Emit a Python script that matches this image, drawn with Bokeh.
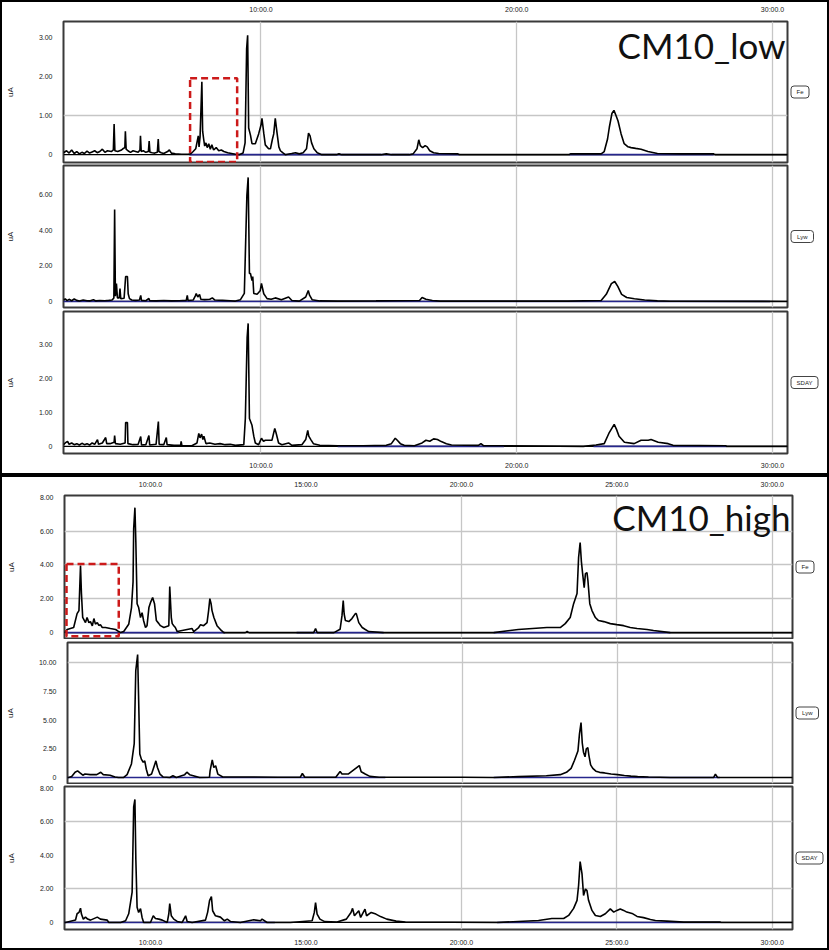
from bokeh.plotting import figure
from bokeh.layouts import column, row
from bokeh.models import Range1d, FixedTicker, Grid, Span, Label
from bokeh.core.properties import value
from bokeh.embed import file_html
from bokeh.resources import INLINE

# ---------------- data (x: retention time in minutes, y: current in uA) ----------------
low_x_ticks = [10, 20, 30]
low_x_labels = ["10:00.0", "20:00.0", "30:00.0"]
high_x_ticks = [10, 15, 20, 25, 30]
high_x_labels = ["10:00.0", "15:00.0", "20:00.0", "25:00.0", "30:00.0"]

channel_tags = ["Fe", "Lyw", "SDAY"]
titles = ["CM10_low", "CM10_high"]

# CM10_low, channel Fe
low_fe_x = [2.281, 2.40, 2.50, 2.60, 2.70, 2.80, 2.90, 3.00, 3.10, 3.20, 3.30, 3.40, 3.50, 3.60, 3.70, 3.80, 3.90, 4.00,
            4.15, 4.23, 4.26, 4.29, 4.40, 4.55, 4.60, 4.68, 4.70, 4.73, 4.80, 4.90, 5.00, 5.10, 5.20, 5.27, 5.29, 5.32,
            5.40, 5.50, 5.60, 5.63, 5.66, 5.75, 5.85, 5.95, 5.985, 6.01, 6.10, 6.20, 6.35, 6.42, 6.50, 6.65, 6.90, 7.15,
            7.25, 7.35, 7.45, 7.55, 7.58, 7.62, 7.69, 7.72, 7.76, 7.80, 7.85, 7.90, 7.96, 8.02, 8.08, 8.15, 8.25, 8.35,
            8.45, 8.55, 8.70, 8.85, 9.00, 9.15, 9.30, 9.38, 9.44, 9.48, 9.52, 9.59, 9.65, 9.78, 9.91, 10.00, 10.04,
            10.11, 10.17, 10.30, 10.37, 10.45, 10.50, 10.56, 10.63, 10.70, 10.76, 10.85, 10.95, 11.20, 11.35, 11.50,
            11.65, 11.78, 11.86, 11.92, 11.98, 12.07, 12.20, 12.38, 12.95, 13.05, 13.16, 14.70, 14.90, 15.10, 15.80,
            15.95, 16.10, 16.17, 16.23, 16.32, 16.42, 16.50, 16.60, 16.75, 16.95, 17.70, 17.75, 22.05, 22.10, 23.30,
            23.42, 23.55, 23.62, 23.72, 23.80, 23.88, 23.96, 24.08, 24.20, 24.35, 24.47, 24.65, 24.86, 25.13, 25.50,
            26.40, 27.70, 27.75, 30.585]
low_fe_y = [0.05, 0.10, 0.04, 0.12, 0.03, 0.08, 0.02, 0.06, 0.03, 0.09, 0.04, 0.07, 0.10, 0.05, 0.08, 0.14, 0.06, 0.10,
            0.08, 0.12, 0.78, 0.10, 0.08, 0.12, 0.15, 0.18, 0.60, 0.14, 0.10, 0.06, 0.10, 0.08, 0.06, 0.12, 0.48, 0.08,
            0.10, 0.06, 0.08, 0.35, 0.06, 0.05, 0.04, 0.06, 0.40, 0.08, 0.05, 0.03, 0.08, 0.12, 0.04, 0.02, 0.01, 0.01,
            0.02, 0.08, 0.15, 0.48, 0.20, 0.45, 1.86, 0.60, 0.40, 0.22, 0.30, 0.18, 0.28, 0.14, 0.25, 0.12, 0.18, 0.10,
            0.12, 0.08, 0.05, 0.03, 0.01, 0.00, 0.04, 0.30, 2.70, 3.05, 0.68, 0.50, 0.28, 0.28, 0.53, 0.75, 0.93,
            0.55, 0.25, 0.15, 0.15, 0.40, 0.53, 0.93, 0.55, 0.20, 0.10, 0.05, 0.00, 0.03, 0.05, 0.02,
            0.05, 0.15, 0.55, 0.48, 0.30, 0.15, 0.05, 0.00, 0.00, 0.02, 0.00, 0.00, 0.02, 0.00, 0.00,
            0.02, 0.15, 0.38, 0.23, 0.18, 0.23, 0.20, 0.10, 0.05, 0.03, 0.02, 0.00, 0.00, 0.02, 0.02,
            0.08, 0.40, 0.70, 1.05, 1.13, 1.00, 0.86, 0.53, 0.28, 0.20, 0.18, 0.16, 0.14, 0.08, 0.03,
            0.02, 0.02, 0.00, 0.00]

# CM10_low, channel Lyw
low_lyw_x = [2.281, 2.35, 2.42, 2.50, 2.60, 2.70, 2.80, 2.90, 3.05, 3.20, 3.30, 3.45, 3.55, 3.70, 3.90, 4.05, 4.18, 4.25,
             4.28, 4.31, 4.35, 4.39, 4.46, 4.49, 4.52, 4.65, 4.71, 4.78, 4.81, 4.86, 4.95, 5.10, 5.25, 5.30, 5.33, 5.50,
             5.62, 5.65, 5.90, 6.20, 6.50, 6.80, 7.08, 7.12, 7.15, 7.35, 7.43, 7.47, 7.53, 7.60, 7.65, 7.80, 8.00, 8.10,
             8.20, 8.50, 8.80, 9.00, 9.20, 9.35, 9.45, 9.50, 9.55, 9.59, 9.65, 9.68, 9.72, 9.85, 9.97, 10.02, 10.11,
             10.24, 10.40, 10.56, 10.80, 11.08, 11.21, 11.50, 11.75, 11.85, 11.90, 12.00, 12.30, 13.00, 14.50, 16.20,
             16.30, 16.45, 16.70, 17.00, 22.00, 23.30, 23.50, 23.70, 23.83, 23.95, 24.10, 24.30, 24.60, 25.00, 25.50,
             26.00, 30.585]
low_lyw_y = [0.08, 0.15, 0.05, 0.12, 0.04, 0.14, 0.06, 0.03, 0.08, 0.04, 0.03, 0.10, 0.03, 0.05, 0.04, 0.06, 0.08, 0.20,
             5.17, 0.30, 1.01, 0.20, 0.20, 0.73, 0.15, 0.18, 1.40, 1.40, 0.43, 0.16, 0.08, 0.06, 0.08, 0.34, 0.06, 0.04,
             0.17, 0.04, 0.03, 0.05, 0.03, 0.04, 0.06, 0.34, 0.05, 0.08, 0.30, 0.45, 0.25, 0.40, 0.12, 0.10, 0.12, 0.20,
             0.08, 0.06, 0.04, 0.02, 0.10, 0.45, 5.96, 6.97, 1.57, 1.57, 1.18, 1.40, 0.45, 0.40, 0.60, 1.01, 0.43,
             0.16, 0.12, 0.20, 0.10, 0.25, 0.05, 0.02, 0.25, 0.62, 0.35, 0.10, 0.03, 0.02, 0.03, 0.05,
             0.22, 0.12, 0.05, 0.02, 0.02, 0.05, 0.40, 1.00, 1.12, 0.85, 0.40, 0.22, 0.15, 0.08, 0.03,
             0.01, 0.00]

# CM10_low, channel SDAY
low_sday_x = [2.281, 2.35, 2.44, 2.50, 2.60, 2.70, 2.80, 2.90, 3.00, 3.10, 3.20, 3.30, 3.40, 3.50, 3.61, 3.65, 3.80, 3.93,
              3.97, 4.10, 4.26, 4.28, 4.31, 4.50, 4.69, 4.71, 4.78, 4.80, 5.00, 5.20, 5.30, 5.33, 5.50, 5.62, 5.65, 5.90,
              5.99, 6.02, 6.20, 6.30, 6.33, 6.60, 6.86, 6.88, 6.91, 7.30, 7.50, 7.57, 7.62, 7.68, 7.73, 7.77, 7.85, 8.00,
              8.20, 8.40, 8.60, 8.80, 9.00, 9.33, 9.39, 9.46, 9.50, 9.55, 9.65, 9.72, 9.78, 9.91, 10.02, 10.10, 10.17,
              10.43, 10.54, 10.59, 10.69, 10.82, 11.08, 11.21, 11.60, 11.75, 11.83, 11.87, 11.95, 12.05, 12.30, 13.00,
              14.00, 14.90, 15.10, 15.25, 15.33, 15.45, 15.60, 16.00, 16.30, 16.45, 16.60, 16.75, 16.90, 17.05, 17.25,
              17.45, 18.50, 18.60, 18.70, 19.50, 22.60, 23.10, 23.42, 23.60, 23.81, 23.90, 24.00, 24.21, 24.59, 24.86,
              25.14, 25.25, 25.53, 25.92, 26.11, 28.18, 28.20, 30.585]
low_sday_y = [0.05, 0.10, 0.15, 0.06, 0.10, 0.05, 0.08, 0.04, 0.09, 0.05, 0.08, 0.04, 0.10, 0.06, 0.20, 0.06, 0.10, 0.26,
              0.08, 0.08, 0.12, 0.32, 0.08, 0.06, 0.10, 0.70, 0.70, 0.08, 0.05, 0.06, 0.29, 0.04, 0.05, 0.32, 0.04, 0.06,
              0.73, 0.06, 0.05, 0.26, 0.05, 0.03, 0.03, 0.15, 0.02, 0.02, 0.10, 0.38, 0.25, 0.36, 0.20, 0.30, 0.08, 0.10,
              0.06, 0.08, 0.05, 0.06, 0.03, 0.05, 0.82, 3.20, 3.62, 0.82, 0.62, 0.30, 0.10, 0.05, 0.24, 0.15, 0.18,
              0.18, 0.53, 0.40, 0.10, 0.05, 0.10, 0.03, 0.05, 0.20, 0.47, 0.30, 0.20, 0.08, 0.03, 0.02,
              0.02, 0.03, 0.08, 0.24, 0.18, 0.08, 0.03, 0.02, 0.10, 0.18, 0.15, 0.22, 0.20, 0.14, 0.08,
              0.04, 0.03, 0.08, 0.02, 0.02, 0.00, 0.04, 0.08, 0.38, 0.65, 0.50, 0.30, 0.12, 0.08, 0.18,
              0.18, 0.20, 0.12, 0.08, 0.03, 0.02, 0.00, 0.00]

# CM10_high, channel Fe
high_fe_x = [7.235, 7.32, 7.53, 7.64, 7.70, 7.75, 7.78, 7.82, 7.91, 7.96, 8.02, 8.07, 8.13, 8.18, 8.23, 8.29, 8.34, 8.39,
             8.45, 8.55, 8.71, 8.88, 8.98, 9.04, 9.14, 9.30, 9.39, 9.44, 9.46, 9.50, 9.53, 9.57, 9.62, 9.68, 9.73, 9.78,
             9.84, 9.89, 9.95, 10.00, 10.07, 10.13, 10.19, 10.27, 10.32, 10.43, 10.59, 10.62, 10.67, 10.70, 10.75,
             10.80, 10.86, 11.34, 11.39, 11.55, 11.61, 11.71, 11.82, 11.87, 11.91, 11.95, 11.98, 12.04, 12.14, 12.25,
             12.36, 13.05, 13.11, 13.17, 14.72, 15.25, 15.31, 15.36, 15.90, 16.10, 16.16, 16.20, 16.23, 16.27, 16.38,
             16.48, 16.59, 16.62, 16.70, 16.81, 16.91, 17.02, 17.50, 21.04, 21.83, 22.75, 23.18, 23.34, 23.50, 23.61,
             23.72, 23.77, 23.82, 23.86, 23.90, 23.95, 23.99, 24.04, 24.07, 24.13, 24.20, 24.31, 24.41, 24.58, 24.79,
             25.00, 25.22, 25.43, 25.65, 25.97, 26.18, 26.72, 30.65]
high_fe_y = [0.00, 0.18, 0.30, 1.12, 1.30, 3.96, 2.31, 0.90, 0.59, 0.89, 0.59, 0.65, 0.40, 0.83, 0.50, 0.59, 0.42, 0.47,
             0.30, 0.30, 0.24, 0.18, 0.06, 0.00, 0.06, 0.49, 1.48, 3.00, 6.15, 7.39, 5.33, 1.71, 1.48, 0.89, 1.18, 0.70,
             0.30, 0.41, 1.48, 1.77, 2.07, 1.71, 0.71, 0.53, 0.41, 0.30, 0.41, 2.72, 0.89, 0.53, 0.41,
             0.30, 0.06, 0.24, 0.06, 0.30, 0.47, 0.41, 0.59, 1.30, 2.01, 1.71, 1.30, 0.89, 0.41, 0.18,
             0.00, 0.00, 0.06, 0.00, 0.00, 0.00, 0.24, 0.00, 0.00, 0.20, 1.00, 1.89, 1.10, 0.71, 0.65,
             0.83, 1.12, 1.12, 0.59, 0.30, 0.18, 0.06, 0.00, 0.00, 0.18, 0.30, 0.30, 0.53, 0.89, 1.71,
             2.31, 4.44, 5.33, 4.20, 3.49, 2.66, 3.49, 3.55, 3.08, 1.71, 1.30, 0.89, 0.71, 0.65, 0.53,
             0.47, 0.41, 0.30, 0.24, 0.18, 0.12, 0.00, 0.00]

# CM10_high, channel Lyw
high_lyw_x = [7.235, 7.27, 7.37, 7.48, 7.56, 7.64, 7.73, 7.80, 7.97, 8.18, 8.31, 8.39, 8.61, 8.77, 8.88, 9.04, 9.16, 9.30,
              9.39, 9.44, 9.50, 9.53, 9.57, 9.62, 9.68, 9.73, 9.78, 9.84, 9.95, 10.02, 10.09, 10.14, 10.22, 10.32, 10.54,
              10.64, 10.75, 11.02, 11.09, 11.18, 11.50, 11.82, 11.84, 11.91, 11.96, 12.02, 12.09, 12.25, 13.00, 14.02,
              14.75, 14.82, 14.90, 15.90, 16.04, 16.10, 16.30, 16.66, 16.72, 16.85, 17.00, 17.30, 20.00, 21.00, 21.80,
              22.70, 23.15, 23.35, 23.50, 23.61, 23.72, 23.77, 23.82, 23.86, 23.90, 23.95, 23.99, 24.04, 24.07, 24.13,
              24.20, 24.30, 24.42, 24.58, 24.79, 25.00, 25.22, 25.43, 25.65, 26.00, 26.70, 28.10, 28.16, 28.23, 30.65]
high_lyw_y = [0.00, 0.00, 0.08, 0.46, 0.58, 0.40, 0.20, 0.30, 0.25, 0.25, 0.46, 0.25, 0.20, 0.05, 0.00, 0.00, 0.25, 1.18,
              2.95, 9.30, 10.69, 7.11, 2.04, 1.60, 1.33, 1.45, 0.72, 0.15, 0.30, 0.87, 1.45, 0.87, 0.30, 0.05, 0.00,
              0.15, 0.00, 0.25, 0.46, 0.25, 0.00, 0.02, 0.58, 1.54, 0.87, 1.02, 0.30, 0.05, 0.05, 0.02,
              0.02, 0.35, 0.02, 0.02, 0.52, 0.30, 0.30, 1.04, 0.50, 0.30, 0.10, 0.02, 0.02, 0.00, 0.08,
              0.15, 0.25, 0.45, 0.80, 1.50, 2.30, 3.80, 4.78, 3.00, 2.20, 1.80, 2.50, 2.60, 2.00, 1.10,
              0.80, 0.55, 0.45, 0.40, 0.30, 0.25, 0.18, 0.12, 0.08, 0.04, 0.00, 0.00, 0.30, 0.00, 0.00]

# CM10_high, channel SDAY
high_sday_x = [7.235, 7.27, 7.59, 7.64, 7.70, 7.75, 7.78, 7.84, 7.91, 7.98, 8.07, 8.29, 8.39, 8.61, 8.66, 9.04, 9.20, 9.30,
               9.36, 9.41, 9.46, 9.50, 9.53, 9.57, 9.62, 9.68, 9.73, 9.78, 10.00, 10.09, 10.16, 10.27, 10.38, 10.54,
               10.59, 10.62, 10.67, 10.75, 10.86, 11.02, 11.13, 11.18, 11.34, 11.77, 11.84, 11.90, 11.96, 12.00, 12.09,
               12.25, 12.38, 12.47, 12.57, 12.89, 13.32, 13.54, 13.59, 13.75, 14.50, 15.20, 15.27, 15.31, 15.36, 15.45,
               15.60, 16.00, 16.30, 16.45, 16.50, 16.56, 16.70, 16.76, 16.90, 16.95, 17.10, 17.25, 17.40, 17.60, 17.90,
               18.20, 21.15, 22.48, 22.91, 23.29, 23.45, 23.61, 23.72, 23.77, 23.82, 23.88, 23.93, 23.99, 24.04, 24.09,
               24.20, 24.31, 24.47, 24.63, 24.79, 24.90, 25.00, 25.11, 25.22, 25.32, 25.49, 25.65, 25.86, 26.08, 26.24,
               26.61, 27.15, 28.33, 28.35, 30.65]
high_sday_y = [0.00, 0.00, 0.15, 0.52, 0.60, 0.85, 0.50, 0.20, 0.32, 0.20, 0.14, 0.32, 0.20, 0.14, 0.00, 0.00, 0.10, 0.52,
               1.21, 1.81, 6.90, 7.35, 3.74, 0.91, 0.60, 0.83, 0.30, 0.00, 0.00, 0.40, 0.24, 0.20, 0.14, 0.00,
               0.52, 1.13, 0.40, 0.20, 0.06, 0.00, 0.40, 0.06, 0.00, 0.14, 0.62, 1.30, 1.54, 0.70, 0.40,
               0.32, 0.10, 0.20, 0.06, 0.00, 0.16, 0.10, 0.20, 0.00, 0.00, 0.10, 0.60, 1.19, 0.50, 0.20,
               0.05, 0.03, 0.20, 0.60, 0.84, 0.40, 0.70, 0.30, 0.80, 0.40, 0.60, 0.50, 0.35, 0.20, 0.08,
               0.03, 0.00, 0.12, 0.24, 0.24, 0.42, 0.84, 1.32, 2.21, 3.64, 2.90, 1.61, 2.00, 1.90, 1.32,
               0.72, 0.42, 0.36, 0.52, 0.81, 0.62, 0.72, 0.81, 0.72, 0.62, 0.54, 0.36, 0.29, 0.18, 0.12,
               0.08, 0.02, 0.02, 0.00, 0.00]

# integration baselines (start / end, minutes)
low_fe_base = ([7.20, 22.05], [17.75, 27.70])
low_lyw_base = ([2.28], [29.9])
low_sday_base = ([13.0, 23.0], [19.5, 28.2])
high_fe_base = ([7.30, 11.40, 14.70, 21.04], [10.90, 12.40, 17.50, 26.72])
high_lyw_base = ([7.24, 21.0], [17.5, 28.3])
high_sday_base = ([7.24, 21.15], [14.0, 28.33])

# highlighted regions (dashed boxes): left, right, bottom, top
low_box = (7.23, 9.07, -0.19, 1.95)
high_box = (7.30, 8.98, -0.22, 4.06)

FONT = "Liberation Sans"


def set_if(model, **kw):
    names = model.properties()
    for k, v in kw.items():
        if k in names:
            setattr(model, k, v)


def build(xr, yr, tx, ty, base, yticks, ylabels, hgrid, vgrid, xticks, xlabels,
          width, height, top, bottom, left, xloc, xstand):
    p = figure(width=width, height=height, x_range=Range1d(*xr), y_range=Range1d(*yr),
               x_axis_location=xloc, output_backend="svg", toolbar_location=None,
               min_border_left=left, min_border_right=2, min_border_top=top,
               min_border_bottom=bottom)
    p.xgrid.visible = False
    p.ygrid.visible = False
    p.background_fill_color = "white"
    p.border_fill_color = "white"
    p.outline_line_color = "#3a3a3a"
    p.outline_line_width = 2
    p.add_layout(Grid(dimension=0, ticker=FixedTicker(ticks=vgrid),
                      grid_line_color="#c6c6c6", grid_line_width=1.3))
    if hgrid:
        p.add_layout(Grid(dimension=1, ticker=FixedTicker(ticks=hgrid),
                          grid_line_color="#c6c6c6", grid_line_width=1.3))
    p.add_layout(Span(location=0, dimension="width", line_color="black", line_width=1.2,
                      level="underlay"))
    p.segment(x0=base[0], y0=[0] * len(base[0]), x1=base[1], y1=[0] * len(base[1]),
              line_color="#26268c", line_width=1.6)
    p.line(tx, ty, line_color="black", line_width=1.6)

    ya = p.yaxis[0]
    ya.ticker = FixedTicker(ticks=yticks)
    ya.major_label_overrides = {t: l for t, l in zip(yticks, ylabels)}
    ya.axis_line_color = None
    ya.major_tick_line_color = None
    ya.minor_tick_line_color = None
    ya.major_tick_out = 0
    ya.major_tick_in = 0
    ya.minor_tick_out = 0
    ya.minor_tick_in = 0
    ya.major_label_text_font = FONT
    ya.major_label_text_font_size = "7px"
    ya.major_label_text_color = "#222222"
    ya.major_label_standoff = 11
    ya.axis_label = "uA"
    ya.axis_label_text_font = FONT
    ya.axis_label_text_font_size = "8px"
    ya.axis_label_text_font_style = "normal"
    ya.axis_label_text_color = "#222222"
    ya.axis_label_standoff = 21

    for xa in p.xaxis:
        xa.ticker = FixedTicker(ticks=xticks)
        xa.major_label_overrides = {t: l for t, l in zip(xticks, xlabels)}
        xa.axis_line_color = None
        xa.major_tick_line_color = None
        xa.minor_tick_line_color = None
        xa.major_tick_out = 0
        xa.major_tick_in = 0
        xa.minor_tick_out = 0
        xa.minor_tick_in = 0
        xa.major_label_text_font = FONT
        xa.major_label_text_font_size = "7px"
        xa.major_label_text_color = "#222222"
        xa.major_label_standoff = xstand
    return p


def tag_panel(tag, width, height):
    """Small boxed channel name shown at the right of each trace panel
    (its frame is aligned with the neighbouring trace frame by the row layout)."""
    q = figure(width=width, height=height, x_range=Range1d(0, width), y_range=Range1d(0, 1),
               x_axis_location=None, y_axis_location=None, output_backend="svg",
               toolbar_location=None, min_border_left=0, min_border_right=0,
               min_border_top=0, min_border_bottom=0)
    q.xgrid.visible = False
    q.ygrid.visible = False
    q.outline_line_color = None
    q.background_fill_color = "white"
    q.border_fill_color = "white"
    bw = len(tag) * 4.5 + 9
    r = q.rect(x=[1.5 + bw / 2], y=[0.5], width=[bw], height=[12], height_units="screen",
               fill_color="white", line_color="#444444", line_width=1)
    set_if(r.glyph, border_radius=3)
    q.text(x=[1.5 + bw / 2], y=[0.5], text=[tag], text_align="center", text_baseline="middle",
           text_font=value(FONT), text_font_size=value("6px"), text_color="#222222")
    return q


LOW_X = (2.281, 30.585)
HIGH_X = (7.235, 30.65)

t1 = build(LOW_X, (-0.20, 3.40), low_fe_x, low_fe_y, low_fe_base, [0, 1, 2, 3],
           ["0", "1.00", "2.00", "3.00"], [1], low_x_ticks, low_x_ticks, low_x_labels,
           787, 162, 17, 2, 59, "above", 9)
t2 = build(LOW_X, (-0.34, 7.64), low_lyw_x, low_lyw_y, low_lyw_base, [0, 2, 4, 6],
           ["0", "2.00", "4.00", "6.00"], [], low_x_ticks, low_x_ticks, low_x_labels,
           787, 145, 1, 2, 59, None, 5)
t3 = build(LOW_X, (-0.21, 3.97), low_sday_x, low_sday_y, low_sday_base, [0, 1, 2, 3],
           ["0", "1.00", "2.00", "3.00"], [], low_x_ticks, low_x_ticks, low_x_labels,
           787, 164, 2, 20, 59, "below", 8)

b1 = build(HIGH_X, (-0.35, 8.11), high_fe_x, high_fe_y, high_fe_base, [0, 2, 4, 6, 8],
           ["0", "2.00", "4.00", "6.00", "8.00"], [2, 4, 6], [20, 25, 30], high_x_ticks, high_x_labels,
           792, 162, 18, 1, 62, "above", 8)
b2 = build(HIGH_X, (-0.52, 11.74), high_lyw_x, high_lyw_y, high_lyw_base, [0, 2.5, 5, 7.5, 10],
           ["0", "2.50", "5.00", "7.50", "10.00"], [10], [20, 25, 30], high_x_ticks, high_x_labels,
           792, 145, 3, 1, 62, None, 5)
b3 = build(HIGH_X, (-0.42, 8.12), high_sday_x, high_sday_y, high_sday_base, [0, 2, 4, 6, 8],
           ["0", "2.00", "4.00", "6.00", "8.00"], [2, 6], [20, 25, 30], high_x_ticks, high_x_labels,
           792, 164, 2, 19, 62, "below", 9)

for p, box in ((t1, low_box), (b1, high_box)):
    p.quad(left=[box[0]], right=[box[1]], bottom=[box[2]], top=[box[3]], fill_color=None,
           line_color="#cc1a1a", line_width=2.5, line_dash="7 4")

t1.add_layout(Label(x=LOW_X[1], y=2.80, x_offset=-2, text=titles[0], text_align="right",
                    text_baseline="middle", text_font="Lato", text_font_size="35px",
                    text_color="#111111"))
b1.add_layout(Label(x=HIGH_X[1], y=6.81, x_offset=-2, text=titles[1], text_align="right",
                    text_baseline="middle", text_font="Lato", text_font_size="35px",
                    text_color="#111111"))

g1 = column(row(t1, tag_panel(channel_tags[0], 38, 162), spacing=0),
            row(t2, tag_panel(channel_tags[1], 38, 145), spacing=0),
            row(t3, tag_panel(channel_tags[2], 38, 164), spacing=0),
            spacing=0, styles={"border": "2px solid black"})
g2 = column(row(b1, tag_panel(channel_tags[0], 33, 162), spacing=0),
            row(b2, tag_panel(channel_tags[1], 33, 145), spacing=0),
            row(b3, tag_panel(channel_tags[2], 33, 164), spacing=0),
            spacing=0, styles={"border": "2px solid black"})
root = column(g1, g2, spacing=0)

open("out.html", "w").write(file_html(root, INLINE))
